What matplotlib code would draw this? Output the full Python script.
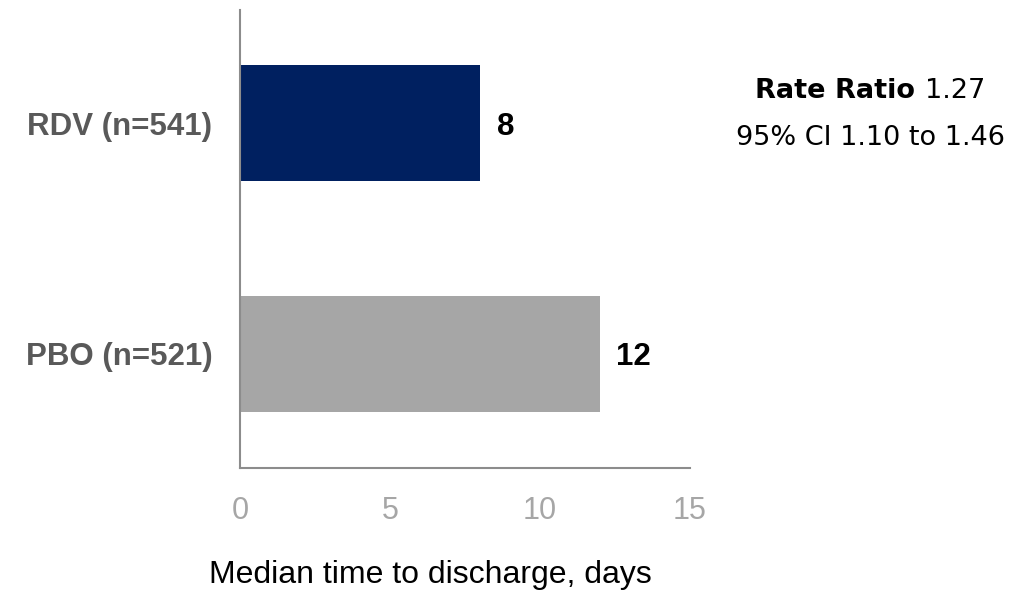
import matplotlib.pyplot as plt

# median time to discharge per arm
groups = ["PBO (n=521)", "RDV (n=541)"]
median_days = [12, 8]
bar_colors = ["#A6A6A6", "#002060"]
x_ticks = [0, 5, 10, 15]

rate_ratio = "1.27"
ci_text = "95% CI 1.10 to 1.46"

fig = plt.figure(figsize=(10.36, 5.92), dpi=100)
ax = fig.add_axes([240 / 1036, 124 / 592, 450 / 1036, 458 / 592])

y = range(len(groups))
ax.barh(y, median_days, height=0.505, color=bar_colors)
for yi, v in zip(y, median_days):
    ax.text(v + 0.55, yi - 0.015, str(v), va="center", ha="left",
            fontsize=22.5, fontweight="bold", family="Liberation Sans",
            color="black")

ax.set_xlim(0, 15)
ax.set_ylim(-0.495, 1.49)
ax.set_xticks(x_ticks)
ax.set_xticklabels([str(t) for t in x_ticks], family="Liberation Sans",
                   fontsize=22, color="#A6A6A6")
ax.set_yticks(list(y))
ax.set_yticklabels(groups, family="Liberation Sans", fontsize=22.5,
                   fontweight="bold", color="#595959")
ax.tick_params(axis="both", length=0)
ax.tick_params(axis="x", pad=20)
ax.tick_params(axis="y", pad=20)
for side in ("top", "right"):
    ax.spines[side].set_visible(False)
for side in ("left", "bottom"):
    ax.spines[side].set_color("#8C8C8C")
    ax.spines[side].set_linewidth(1.5)

fig.text(430 / 1036, 1 - 575 / 592, "Median time to discharge, days",
         ha="center", va="center", family="Liberation Sans", fontsize=23,
         color="black")

# rate ratio box: bold label followed by regular value, centred as one line
cx, y1, y2 = 870 / 1036, 1 - 91 / 592, 1 - 138 / 592
fig.canvas.draw()
renderer = fig.canvas.get_renderer()
t_bold = fig.text(0, y1, "Rate Ratio ", fontweight="bold", fontsize=19.5,
                  family="DejaVu Sans", va="center", ha="left")
t_val = fig.text(0, y1, rate_ratio, fontsize=19.5, family="DejaVu Sans",
                 va="center", ha="left")
w_bold = t_bold.get_window_extent(renderer).width / fig.bbox.width
w_val = t_val.get_window_extent(renderer).width / fig.bbox.width
x0 = cx - (w_bold + w_val) / 2
t_bold.set_x(x0)
t_val.set_x(x0 + w_bold)
fig.text(cx, y2, ci_text, fontsize=19.5, family="DejaVu Sans", ha="center",
         va="center")

fig.savefig("out.png", dpi=100)
